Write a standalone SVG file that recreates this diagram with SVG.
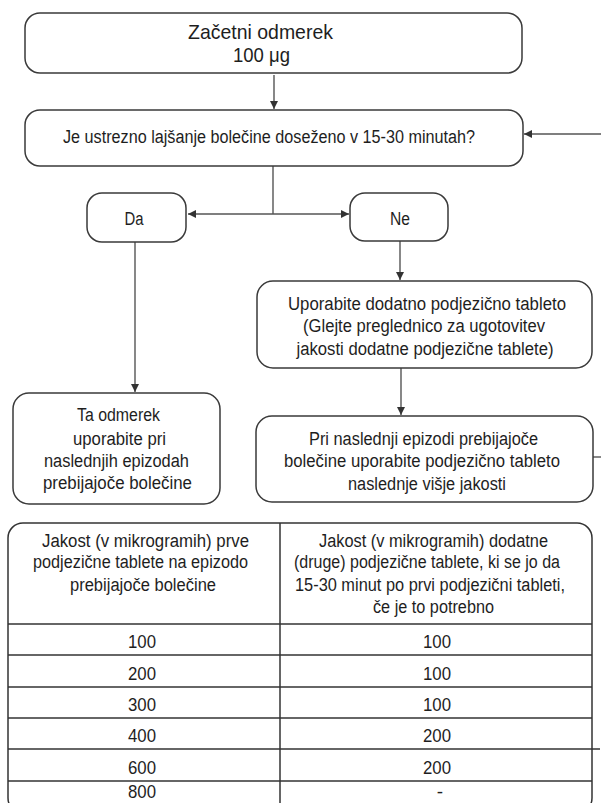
<svg xmlns="http://www.w3.org/2000/svg" width="601" height="803" viewBox="0 0 601 803">
<style>
.box{fill:#fff;stroke:#3a3a3a;stroke-width:1.5}
.ln{fill:none;stroke:#555;stroke-width:1.4}
.tl{fill:none;stroke:#333;stroke-width:1.5}
text{font-family:"Liberation Sans",Arial,sans-serif;fill:#1e1e1e;text-anchor:middle}
.t{font-size:18px}
.h{font-size:21px}
.n{font-size:19px}
</style>
<defs>
<marker id="ah" viewBox="0 0 10 10" refX="10" refY="5" markerWidth="8" markerHeight="8" markerUnits="userSpaceOnUse" orient="auto">
<path d="M0,0 L10,5 L0,10 z" fill="#333"/>
</marker>
</defs>
<rect width="601" height="803" fill="#fff"/>
<g id="connectors">
<line class="ln" x1="274" y1="75" x2="274" y2="109" marker-end="url(#ah)"/>
<line class="ln" x1="601" y1="134" x2="524" y2="134" marker-end="url(#ah)"/>
<line class="ln" x1="273" y1="166" x2="273" y2="214"/>
<line class="ln" x1="273" y1="214" x2="188" y2="214" marker-end="url(#ah)"/>
<line class="ln" x1="273" y1="214" x2="349" y2="214" marker-end="url(#ah)"/>
<line class="ln" x1="135" y1="242" x2="135" y2="392" marker-end="url(#ah)"/>
<line class="ln" x1="400" y1="241" x2="400" y2="280" marker-end="url(#ah)"/>
<line class="ln" x1="401" y1="368" x2="401" y2="415" marker-end="url(#ah)"/>
<line class="ln" x1="593" y1="457" x2="601" y2="457"/>
</g>
<g id="start">
<rect class="box" x="25" y="13" width="497" height="60" rx="15"/>
<text class="h" x="260.5" y="39" textLength="145" lengthAdjust="spacingAndGlyphs">Začetni odmerek</text>
<text class="h" x="261.5" y="62" textLength="57" lengthAdjust="spacingAndGlyphs">100 μg</text>
</g>
<g id="question">
<rect class="box" x="25" y="110" width="498" height="56" rx="15"/>
<text class="t" x="269" y="143" textLength="412" lengthAdjust="spacingAndGlyphs">Je ustrezno lajšanje bolečine doseženo v 15-30 minutah?</text>
</g>
<g id="da">
<rect class="box" x="87" y="193" width="99" height="49" rx="15"/>
<text class="t" x="134" y="225" textLength="19" lengthAdjust="spacingAndGlyphs">Da</text>
</g>
<g id="ne">
<rect class="box" x="350" y="193" width="98" height="48" rx="15"/>
<text class="t" x="400" y="225" textLength="20" lengthAdjust="spacingAndGlyphs">Ne</text>
</g>
<g id="extra-tablet">
<rect class="box" x="257" y="281" width="335" height="87" rx="16"/>
<text class="t" x="427" y="310" textLength="278" lengthAdjust="spacingAndGlyphs">Uporabite dodatno podjezično tableto</text>
<text class="t" x="424" y="332" textLength="242" lengthAdjust="spacingAndGlyphs">(Glejte preglednico za ugotovitev</text>
<text class="t" x="425" y="355" textLength="257" lengthAdjust="spacingAndGlyphs">jakosti dodatne podjezične tablete)</text>
</g>
<g id="same-dose">
<rect class="box" x="13" y="393" width="207" height="111" rx="16"/>
<text class="t" x="118.5" y="421" textLength="83" lengthAdjust="spacingAndGlyphs">Ta odmerek</text>
<text class="t" x="119.5" y="445" textLength="93" lengthAdjust="spacingAndGlyphs">uporabite pri</text>
<text class="t" x="116.5" y="467" textLength="145" lengthAdjust="spacingAndGlyphs">naslednjih epizodah</text>
<text class="t" x="117.5" y="489" textLength="149" lengthAdjust="spacingAndGlyphs">prebijajoče bolečine</text>
</g>
<g id="higher-dose">
<rect class="box" x="256" y="416" width="337" height="86" rx="16"/>
<text class="t" x="423.5" y="445" textLength="229" lengthAdjust="spacingAndGlyphs">Pri naslednji epizodi prebijajoče</text>
<text class="t" x="422" y="467" textLength="276" lengthAdjust="spacingAndGlyphs">bolečine uporabite podjezično tableto</text>
<text class="t" x="427" y="490" textLength="158" lengthAdjust="spacingAndGlyphs">naslednje višje jakosti</text>
</g>
<g id="table">
<rect class="tl" x="8" y="523" width="584" height="290" rx="15" fill="#fff"/>
<line class="tl" x1="280" y1="523" x2="280" y2="803"/>
<line class="tl" x1="8" y1="624" x2="592" y2="624"/>
<line class="tl" x1="8" y1="655" x2="592" y2="655"/>
<line class="tl" x1="8" y1="687" x2="592" y2="687"/>
<line class="tl" x1="8" y1="718" x2="592" y2="718"/>
<line class="tl" x1="8" y1="749" x2="600" y2="749"/>
<line class="tl" x1="8" y1="781" x2="592" y2="781"/>
<text class="t" x="145.5" y="547" textLength="207" lengthAdjust="spacingAndGlyphs">Jakost (v mikrogramih) prve</text>
<text class="t" x="140.5" y="568" textLength="215" lengthAdjust="spacingAndGlyphs">podjezične tablete na epizodo</text>
<text class="t" x="143" y="591" textLength="146" lengthAdjust="spacingAndGlyphs">prebijajoče bolečine</text>
<text class="t" x="433.5" y="547" textLength="229" lengthAdjust="spacingAndGlyphs">Jakost (v  mikrogramih) dodatne</text>
<text class="t" x="427" y="568" textLength="266" lengthAdjust="spacingAndGlyphs">(druge) podjezične tablete, ki se jo da</text>
<text class="t" x="430" y="591" textLength="270" lengthAdjust="spacingAndGlyphs">15-30  minut po prvi  podjezični  tableti,</text>
<text class="t" x="433.5" y="613" textLength="121" lengthAdjust="spacingAndGlyphs">če je to potrebno</text>
<text class="n" x="142" y="648" textLength="28" lengthAdjust="spacingAndGlyphs">100</text><text class="n" x="437" y="648" textLength="28" lengthAdjust="spacingAndGlyphs">100</text>
<text class="n" x="142" y="680" textLength="28" lengthAdjust="spacingAndGlyphs">200</text><text class="n" x="437" y="680" textLength="28" lengthAdjust="spacingAndGlyphs">100</text>
<text class="n" x="142" y="711" textLength="28" lengthAdjust="spacingAndGlyphs">300</text><text class="n" x="437" y="711" textLength="28" lengthAdjust="spacingAndGlyphs">100</text>
<text class="n" x="142" y="742" textLength="28" lengthAdjust="spacingAndGlyphs">400</text><text class="n" x="437" y="742" textLength="28" lengthAdjust="spacingAndGlyphs">200</text>
<text class="n" x="142" y="774" textLength="28" lengthAdjust="spacingAndGlyphs">600</text><text class="n" x="437" y="774" textLength="28" lengthAdjust="spacingAndGlyphs">200</text>
<text class="n" x="142" y="798" textLength="28" lengthAdjust="spacingAndGlyphs">800</text><text class="n" x="440" y="798">-</text>
</g>
</svg>
